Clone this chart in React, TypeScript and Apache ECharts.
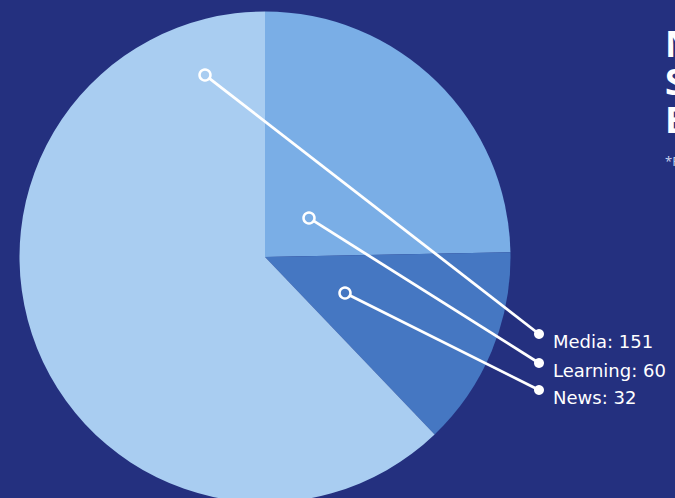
import React, { useEffect, useRef } from "react";
import * as echarts from "echarts";

const categories = ["Learning", "News", "Media"];
const values = [60, 32, 151];
const titleLines = ["Newsletter", "Subscribers", "Engagement"];
const subtitle = "*Figures in thousands";

// layout (not data)
const CX = 265;
const CY = 257;
const R = 245.5;
const anchorOffsets: Record<string, [number, number]> = {
  Learning: [44, -39],
  News: [80, 36],
  Media: [-60, -182],
};
const dotX = 539;
const dotY: Record<string, number> = { Media: 334, Learning: 363, News: 390 };
const labelX = 553;

export default function App() {
  const ref = useRef<HTMLDivElement>(null);
  useEffect(() => {
    if (!ref.current) return;
    const chart = echarts.init(ref.current, undefined, { renderer: "svg" });
    const data = categories.map((c, i) => ({ name: c, value: values[i] }));
    const graphics: any[] = [];
    categories.forEach((c) => {
      const [ox, oy] = anchorOffsets[c];
      const sx = CX + ox;
      const sy = CY + oy;
      const ex = dotX;
      const ey = dotY[c];
      const len = Math.hypot(ex - sx, ey - sy);
      const ux = (ex - sx) / len;
      const uy = (ey - sy) / len;
      graphics.push({
        type: "line",
        z: 100,
        shape: { x1: sx + ux * 5.5, y1: sy + uy * 5.5, x2: ex, y2: ey },
        style: { stroke: "#ffffff", lineWidth: 2.8 },
      });
      graphics.push({
        type: "circle",
        z: 101,
        shape: { cx: sx, cy: sy, r: 5.5 },
        style: { fill: "transparent", stroke: "#ffffff", lineWidth: 2.5 },
      });
      graphics.push({
        type: "circle",
        z: 101,
        shape: { cx: ex, cy: ey, r: 5 },
        style: { fill: "#ffffff" },
      });
    });
    chart.setOption({
      animation: false,
      backgroundColor: "#24307f",
      title: {
        text: titleLines.join("\n"),
        subtext: subtitle,
        left: 665,
        top: 24,
        padding: 0,
        itemGap: 16,
        textStyle: {
          color: "#ffffff",
          fontSize: 36,
          fontWeight: "bold",
          lineHeight: 38,
          fontFamily: "Noto Sans",
        },
        subtextStyle: {
          color: "#c3cdea",
          fontSize: 13,
          fontFamily: "Noto Sans",
        },
      },
      color: ["#7aaee6", "#4577c2", "#a9cdf1"],
      graphic: graphics,
      series: [
        {
          type: "pie",
          center: [CX, CY],
          radius: R,
          startAngle: 90,
          clockwise: true,
          avoidLabelOverlap: false,
          data,
          itemStyle: { borderWidth: 0 },
          emphasis: { disabled: true },
          label: {
            show: true,
            position: "outside",
            formatter: "{b}: {c}",
            color: "#ffffff",
            fontSize: 18,
            fontFamily: "DejaVu Sans",
          },
          labelLine: { show: false },
          labelLayout: (params: any) => {
            const c = categories[params.dataIndex];
            return {
              x: labelX,
              y: dotY[c] + 7,
              align: "left",
              verticalAlign: "middle",
            };
          },
        },
      ],
    });
    return () => chart.dispose();
  }, []);
  return (
    <div
      ref={ref}
      style={{ position: "fixed", left: 0, top: 0, width: 675, height: 498 }}
    />
  );
}
